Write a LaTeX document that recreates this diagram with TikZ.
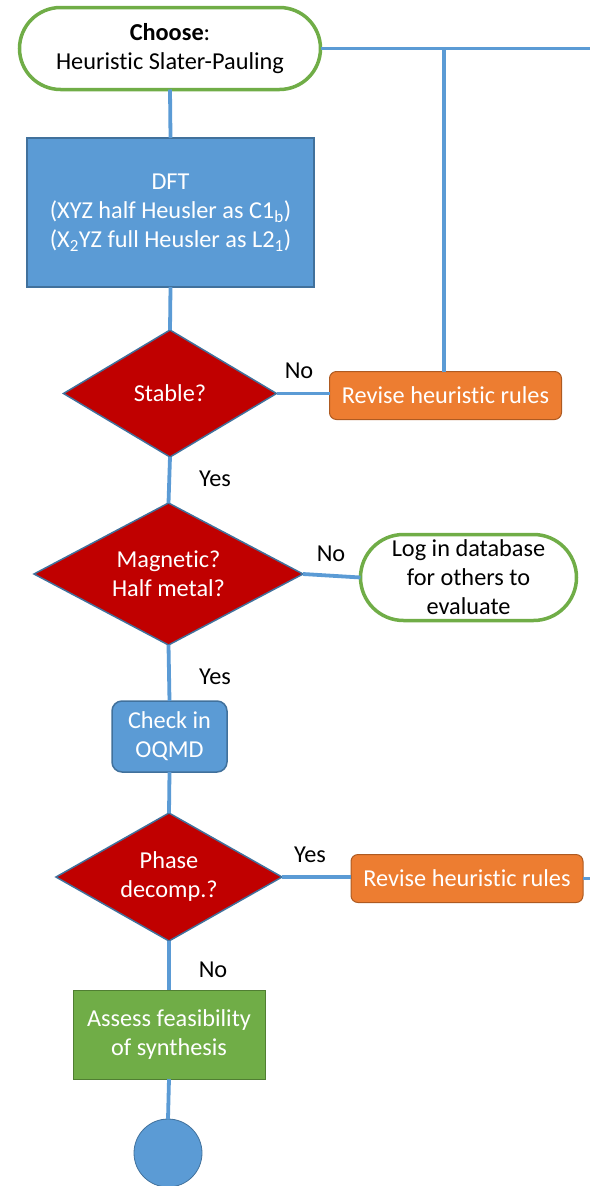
\documentclass[tikz,border=0pt]{standalone}
\usepackage{fontspec}
\setmainfont{Carlito}[Ligatures=NoCommon]
\usetikzlibrary{shapes.geometric}
\definecolor{lineblue}{HTML}{5B9BD5}
\definecolor{boxblue}{HTML}{5B9BD5}
\definecolor{edgeblue}{HTML}{41719C}
\definecolor{dred}{HTML}{C00000}
\definecolor{orng}{HTML}{ED7D31}
\definecolor{orngedge}{HTML}{AE5A21}
\definecolor{grn}{HTML}{70AD47}
\definecolor{grnedge}{HTML}{507E32}
\begin{document}
\begin{tikzpicture}[x=1pt,y=-1pt,
  every node/.style={font=\fontsize{24.3}{29}\selectfont, align=center, inner sep=0pt, outer sep=0pt},
  conn/.style={draw=lineblue, line width=3.8pt},
  term/.style={draw=grn, line width=3.5pt, fill=white, rectangle},
  procb/.style={draw=edgeblue, line width=1.5pt, fill=boxblue, text=white, rectangle},
  dia/.style={draw=edgeblue, line width=1.5pt, fill=dred, diamond},
  wtext/.style={text=white},
  revbox/.style={draw=orngedge, line width=1pt, fill=orng, text=white, rectangle, rounded corners=7pt, minimum width=232pt, minimum height=48pt},
  lbl/.style={text=black}
]
\useasboundingbox (0,0) rectangle (590,1186);

% nodes
\node[term, minimum width=301pt, minimum height=82pt, rounded corners=41pt] (start) at (170,48.5)
  {\textbf{Choose}:\\Heuristic Slater-Pauling};
\node[procb, minimum width=287pt, minimum height=149pt] (dft) at (170.5,212.5)
  {DFT\\(XYZ half Heusler as C1\textsubscript{b})\\(X\textsubscript{2}YZ full Heusler as L2\textsubscript{1})};
\node[dia, minimum width=213pt, minimum height=127pt] (stable) at (170,393.5) {};
\node[wtext] (stablet) at (stable.center) {Stable?};
\node[revbox] (rev1) at (445.5,395.5) {Revise heuristic rules};
\node[dia, minimum width=269pt, minimum height=142pt] (mag) at (168.5,574) {};
\node[wtext] (magt) at (mag.center) {Magnetic?\\Half metal?};
\node[term, minimum width=216pt, minimum height=86pt, rounded corners=43pt] (log) at (468.5,577.5)
  {Log in database\\for others to\\evaluate};
\node[procb, rounded corners=10pt, minimum width=115pt, minimum height=71pt] (check) at (169.5,736.5)
  {Check in\\OQMD};
\node[dia, minimum width=226pt, minimum height=128pt] (phase) at (169,877) {};
\node[wtext] (phaset) at (phase.center) {Phase\\decomp.?};
\node[revbox] (rev2) at (467,878.5) {Revise heuristic rules};
\node[draw=grnedge, line width=1pt, fill=grn, text=white, rectangle, minimum width=192pt, minimum height=89pt] (assess) at (169,1034.5)
  {Assess feasibility\\of synthesis};
\node[draw=edgeblue, line width=0.8pt, fill=boxblue, ellipse, minimum width=68pt, minimum height=68pt] (endc) at (168,1153) {};

% free ends
\coordinate (eR1) at (590,48.5);
\coordinate (eR2) at (590,878.5);
\coordinate (jn) at (444,48.5);

% connectors
\draw[conn] (start.east) -- (eR1);
\draw[conn] (rev1.north -| jn) -- (jn);
\draw[conn] (start.south) -- (dft.north);
\draw[conn] (dft.south) -- (stable.north);
\draw[conn] (stable.east) -- (stable.east -| rev1.west);
\draw[conn] (stable.south) -- (mag.north);
\draw[conn] (mag.east) -- (log.west);
\draw[conn] (mag.south) -- (check.north);
\draw[conn] (check.south) -- (phase.north);
\draw[conn] (phase.east) -- (phase.east -| rev2.west);
\draw[conn] (rev2.east) -- (eR2);
\draw[conn] (phase.south) -- (assess.north);
\draw[conn] (assess.south) -- (endc.north);

% labels
\node[lbl] (l1) at (299,371) {No};
\node[lbl] (l2) at (215,479) {Yes};
\node[lbl] (l3) at (331,554) {No};
\node[lbl] (l4) at (215,677) {Yes};
\node[lbl] (l5) at (310,855) {Yes};
\node[lbl] (l6) at (213,970) {No};
\end{tikzpicture}
\end{document}
